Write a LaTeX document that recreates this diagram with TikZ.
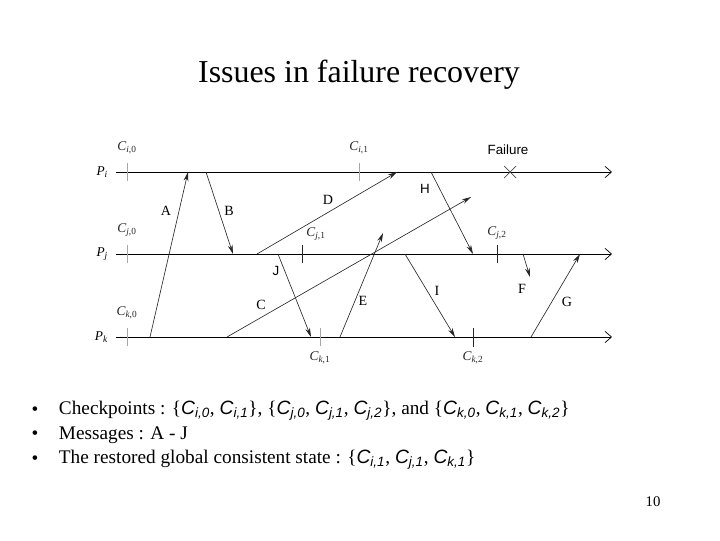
\documentclass[tikz,border=0pt]{standalone}
\usepackage{fontspec}
\setmainfont{Liberation Serif}
\newfontfamily\lblsf{Liberation Sans}
\usepackage{tikz}
\usetikzlibrary{arrows.meta}

% checkpoint label in the diagram, and in the bullet text
\newcommand{\ckpt}[2]{\textit{C}\textsubscript{\textit{#1},#2}}
\newcommand{\cbul}[2]{{\lblsf\itshape C\textsubscript{#1,#2}}}

\begin{document}
\begin{tikzpicture}[
  x=0.025cm, y=-0.025cm,
  proc/.style={line width=0.5pt, -{Straight Barb[length=1.6mm, width=2.8mm]}},
  tick/.style={line width=0.5pt, gray!70},
  mtick/.style={line width=0.6pt, black!85},
  msg/.style={line width=0.45pt, black!85, -{Stealth[length=2.3mm, width=1.2mm]}},
  mlab/.style={font=\fontsize{10}{12}\selectfont},
  slab/.style={font=\lblsf\fontsize{9.5}{11}\selectfont},
  clab/.style={font=\fontsize{9.5}{11}\selectfont, gray!30!black},
  plab/.style={font=\fontsize{9.5}{11}\selectfont, anchor=east},
  bul/.style={font=\fontsize{13.7}{16}\selectfont, anchor=west},
]
  \useasboundingbox (0,0) rectangle (720,540);

  % --- title ---
  \node[font=\fontsize{22.7}{27}\selectfont] (title) at (359,75) {Issues in failure recovery};

  % --- process lines ---
  \foreach \p/\y in {i/172, j/254, k/337}{
    \coordinate (s\p) at (116,\y);
    \coordinate (e\p) at (612,\y);
    \draw[proc] (s\p) -- (e\p);
    \node[plab] (P\p) at (113,\y) {\textit{P}\textsubscript{\textit{\p}}};
  }

  % --- initial checkpoints C_{x,0} ---
  \foreach \p/\y in {i/172, j/254, k/337}{
    \draw[tick] (127,\y-9) -- (127,\y+9);
    \node[clab] (C\p0) at (127,\y-24) {\ckpt{\p}{0}};
  }

  % --- later checkpoints ---
  \draw[tick]  (359,163) -- (359,181);
  \node[clab] (Ci1) at (359,148) {\ckpt{i}{1}};
  \draw[mtick] (302,245) -- (302,263);
  \node[clab] (Cj1) at (316,234) {\ckpt{j}{1}};
  \draw[mtick] (497,245) -- (497,263);
  \node[clab] (Cj2) at (497,233) {\ckpt{j}{2}};
  \draw[tick]  (320,328) -- (320,346);
  \node[clab] (Ck1) at (320,358) {\ckpt{k}{1}};
  \draw[mtick] (473,328) -- (473,347);
  \node[clab] (Ck2) at (473,358) {\ckpt{k}{2}};

  % --- failure on P_i ---
  \draw[line width=0.5pt, gray!60!black] (504,166) -- (516,178) (504,178) -- (516,166);
  \node[slab] (fail) at (508,150) {Failure};

  % --- message end points ---
  \coordinate (A0) at (150,337);  \coordinate (A1) at (188,172);
  \coordinate (B0) at (206,172);  \coordinate (B1) at (233,254);
  \coordinate (C0) at (227,337);  \coordinate (C1) at (471,197);
  \coordinate (D0) at (257,254);  \coordinate (D1) at (397,172);
  \coordinate (E0) at (340,337);  \coordinate (E1) at (383,233);
  \coordinate (F0) at (523,254);  \coordinate (F1) at (530,277);
  \coordinate (G0) at (531,337);  \coordinate (G1) at (580,254);
  \coordinate (H0) at (431,172);  \coordinate (H1) at (473,254);
  \coordinate (I0) at (405,254);  \coordinate (I1) at (455,337);
  \coordinate (J0) at (278,254);  \coordinate (J1) at (311,337);

  % --- messages A - J ---
  \foreach \m in {A,B,C,D,E,F,G,H,I,J}{
    \draw[msg] (\m0) -- (\m1);
  }

  % --- message labels ---
  \node[mlab] (lA) at (166,211) {A};
  \node[mlab] (lB) at (229,211) {B};
  \node[mlab] (lC) at (261,305) {C};
  \node[mlab] (lD) at (328,200) {D};
  \node[mlab] (lE) at (363,301) {E};
  \node[mlab] (lF) at (522,289) {F};
  \node[mlab] (lG) at (567,302) {G};
  \node[slab] (lH) at (425,189) {H};
  \node[mlab] (lI) at (437,291) {I};
  \node[slab] (lJ) at (276,271) {J};

  % --- bullet list ---
  \foreach \n/\y in {1/411, 2/435, 3/460}{
    \node[font=\fontsize{13.7}{16}\selectfont] (dot\n) at (35,\y) {\textbullet};
  }
  \node[bul] (b1) at (54,411) {Checkpoints : \{\cbul{i}{0}, \cbul{i}{1}\}, \{\cbul{j}{0}, \cbul{j}{1}, \cbul{j}{2}\}, and \{\cbul{k}{0}, \cbul{k}{1}, \cbul{k}{2}\}};
  \node[bul] (b2) at (54,435) {Messages : A - J};
  \node[bul] (b3) at (54,460) {The restored global consistent state : \{\cbul{i}{1}, \cbul{j}{1}, \cbul{k}{1}\}};

  % --- page number ---
  \node[font=\fontsize{10.5}{12}\selectfont] (pg) at (653,502) {10};
\end{tikzpicture}
\end{document}
